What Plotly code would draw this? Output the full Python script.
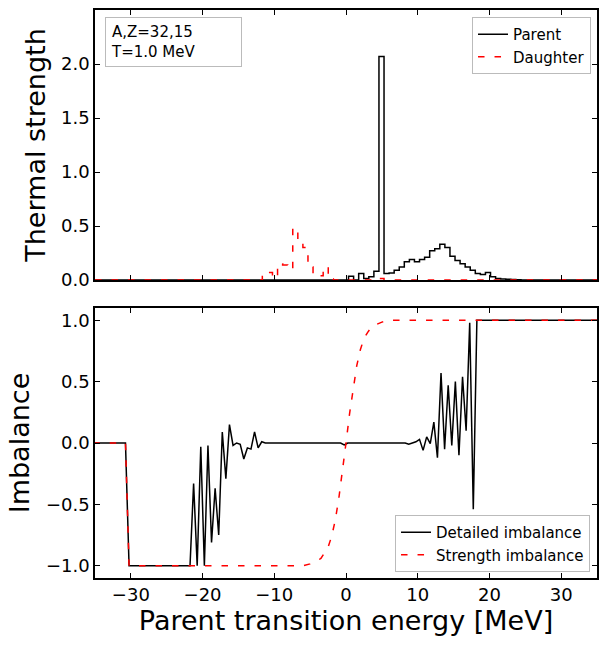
import numpy as np
import plotly.graph_objects as go

# ---------------- data ----------------
# histogram bins: 99 bins between -35 and 35 MeV
hist_edges = np.linspace(-35, 35, 100)

parent_strength = (
    [0.0] * 50 +
    [0.035, 0.0, 0.06, 0.013, 0.03, 0.08, 2.07, 0.06, 0.065, 0.09,
     0.12, 0.17, 0.19, 0.17, 0.19, 0.21, 0.27, 0.29, 0.33, 0.30,
     0.22, 0.18, 0.15, 0.12, 0.09, 0.06, 0.05, 0.07, 0.03, 0.015,
     0.01, 0.008, 0.005, 0.003] +
    [0.0] * 15
)

daughter_strength = (
    [0.0] * 33 +
    [0.07, 0.07, 0.02, 0.15, 0.14, 0.10, 0.48, 0.38, 0.30, 0.12,
     0.04, 0.04, 0.12, 0.01] +
    [0.0] * 9 +
    [0.015] +
    [0.0] * 42
)

# imbalance curves: (energy, value) breakpoints
detailed_energy = [-35.25, -30.75, -30.25, -21.75, -21.25, -20.75, -20.25, -19.75,
                   -19.25, -18.75, -18.25, -17.75, -17.25, -16.75, -16.25, -15.75,
                   -15.25, -14.75, -14.25, -13.75, -13.25, -12.75, -12.25, -11.75,
                   -11.25, -0.75, -0.25, 0.25, 8.25, 8.75, 9.25, 9.75, 10.25, 10.75,
                   11.25, 11.75, 12.25, 12.75, 13.25, 13.75, 14.25, 14.75, 15.25,
                   15.75, 16.25, 16.75, 17.25, 17.75, 18.25, 35.25]
detailed_imbalance = [0.0, 0.0, -1.0, -1.0, -0.33, -1.0, -0.03, -1.0,
                      -0.02, -0.81, -0.37, -0.75, 0.09, -0.29, 0.15, -0.02,
                      0.0, -0.01, -0.13, -0.04, -0.05, 0.09, -0.04, 0.01,
                      0.0, 0.0, -0.015, 0.0, 0.0, -0.01, 0.0, 0.01, 0.03, -0.06,
                      0.05, -0.005, 0.17, -0.12, 0.57, -0.05, 0.47, -0.02, 0.50,
                      -0.10, 0.54, 0.10, 0.98, -0.54, 1.0, 1.0]

strength_energy = [-35.25, -30.75, -30.25, -6.0, -5.0, -4.0, -3.5, -3.0, -2.5, -2.0,
                   -1.5, -1.0, -0.5, 0.0, 0.5, 1.0, 1.5, 2.0, 2.5, 3.0, 3.5, 4.0,
                   5.0, 6.0, 35.25]
strength_imbalance = [0.0, 0.0, -1.0, -1.0, -0.985, -0.96, -0.94, -0.9, -0.85, -0.76,
                      -0.63, -0.45, -0.24, 0.0, 0.24, 0.45, 0.63, 0.76, 0.85, 0.9,
                      0.94, 0.96, 0.985, 1.0, 1.0]

x_ticks = [-30, -20, -10, 0, 10, 20, 30]
top_y_ticks = [0.0, 0.5, 1.0, 1.5, 2.0, 2.5]
bottom_y_ticks = [-1.0, -0.5, 0.0, 0.5, 1.0]

# ---------------- figure ----------------
FONT = "DejaVu Sans"
DASH = "6.5px,10px"
TITLE_SIZE = 27


def step_xy(edges, values):
    xs = [edges[0]] + list(edges[:-1]) + [edges[-1]]
    ys = [0.0] + list(values) + [0.0]
    return xs, ys


fig = go.Figure()

px_, py_ = step_xy(hist_edges, parent_strength)
fig.add_trace(go.Scatter(x=px_, y=py_, mode="lines", line_shape="hv",
                         line=dict(color="black", width=1.5), name="Parent",
                         xaxis="x", yaxis="y", legend="legend"))
dx_, dy_ = step_xy(hist_edges, daughter_strength)
fig.add_trace(go.Scatter(x=dx_, y=dy_, mode="lines", line_shape="hv",
                         line=dict(color="red", width=1.5, dash=DASH), name="Daughter",
                         xaxis="x", yaxis="y", legend="legend"))

fig.add_trace(go.Scatter(x=detailed_energy, y=detailed_imbalance, mode="lines",
                         line=dict(color="black", width=1.5), name="Detailed imbalance",
                         xaxis="x2", yaxis="y2", legend="legend2"))
fig.add_trace(go.Scatter(x=strength_energy, y=strength_imbalance, mode="lines",
                         line=dict(color="red", width=1.5, dash=DASH), name="Strength imbalance",
                         xaxis="x2", yaxis="y2", legend="legend2"))

axis_common = dict(showline=True, linecolor="black", linewidth=1.5, mirror="ticks",
                   ticks="inside", ticklen=5, tickwidth=1, tickcolor="black",
                   showgrid=False, zeroline=False,
                   tickfont=dict(family=FONT, size=18, color="black"))

W, H = 599, 646
ML, MR, MT, MB = 95, 0, 10, 68
plot_h = H - MT - MB
top_dom = [(578 - 280) / plot_h, 1.0]
bot_dom = [0.0, (578 - 308) / plot_h]

fig.update_layout(
    width=W, height=H,
    margin=dict(l=ML, r=MR, t=MT, b=MB),
    paper_bgcolor="white", plot_bgcolor="white",
    font=dict(family=FONT, color="black"),
    xaxis=dict(domain=[0, 1], anchor="y", range=[-35, 35], tickvals=x_ticks,
               showticklabels=False, **axis_common),
    yaxis=dict(domain=top_dom, anchor="x", range=[0, 2.5], tickvals=top_y_ticks,
               tickformat=".1f",
               title=dict(text="Thermal strength", font=dict(family=FONT, size=TITLE_SIZE),
                          standoff=8),
               **axis_common),
    xaxis2=dict(domain=[0, 1], anchor="y2", range=[-35, 35], tickvals=x_ticks,
                title=dict(text="Parent transition energy [MeV]",
                           font=dict(family=FONT, size=TITLE_SIZE), standoff=6),
                **axis_common),
    yaxis2=dict(domain=bot_dom, anchor="x2", range=[-1.1, 1.1], tickvals=bottom_y_ticks,
                tickformat=".1f",
                title=dict(text="Imbalance", font=dict(family=FONT, size=TITLE_SIZE),
                           standoff=8),
                **axis_common),
    legend=dict(x=(593 - ML) / (W - ML - MR), xanchor="right",
                y=(578 - 17) / plot_h, yanchor="top", itemwidth=30,
                bgcolor="white", bordercolor="#bbbbbb", borderwidth=1,
                font=dict(family=FONT, size=15)),
    legend2=dict(x=(592 - ML) / (W - ML - MR), xanchor="right",
                 y=(578 - 572) / plot_h, yanchor="bottom", itemwidth=30,
                 bgcolor="white", bordercolor="#bbbbbb", borderwidth=1,
                 font=dict(family=FONT, size=15)),
    showlegend=True,
)

fig.add_annotation(xref="paper", yref="paper",
                   x=(105 - ML) / (W - ML - MR), xanchor="left",
                   y=(578 - 17) / plot_h, yanchor="top",
                   text="A,Z=32,15<br>T=1.0 MeV", showarrow=False, align="left",
                   font=dict(family=FONT, size=15, color="black"),
                   bordercolor="#bbbbbb", borderwidth=1, borderpad=5,
                   bgcolor="white", width=125)

fig.write_html("out.html", config={"displayModeBar": False},
               post_script="document.body.style.margin='0';document.body.style.overflow='hidden';")
